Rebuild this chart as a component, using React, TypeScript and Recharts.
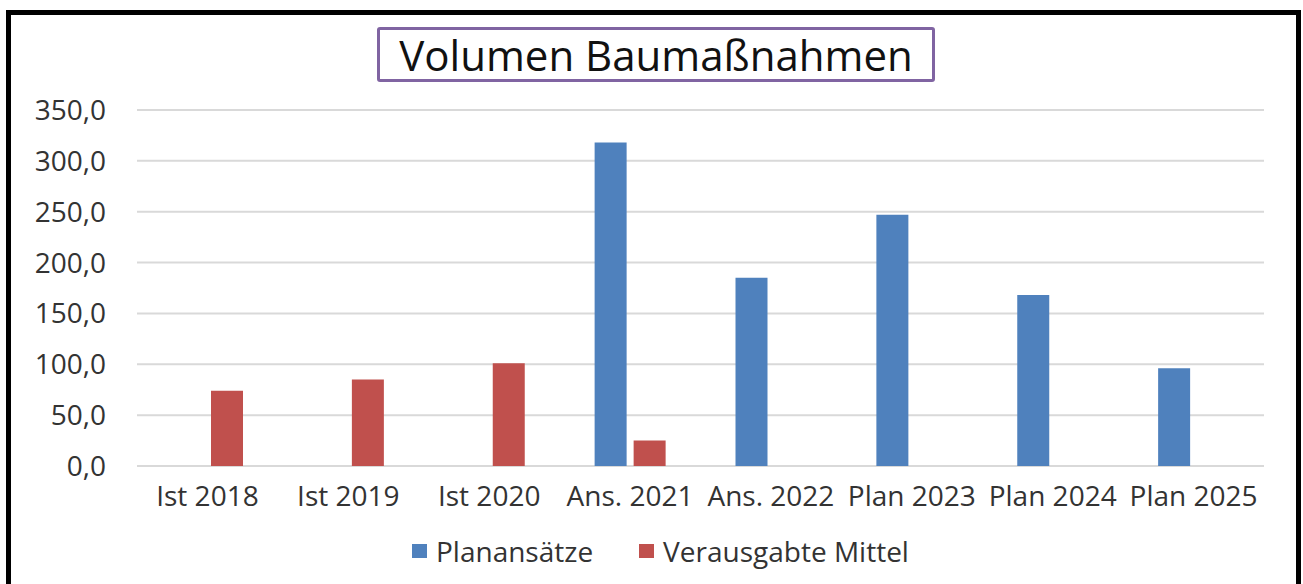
import { Bar, BarChart, CartesianGrid, Legend, XAxis, YAxis } from "recharts";

const categories = [
  "Ist 2018",
  "Ist 2019",
  "Ist 2020",
  "Ans. 2021",
  "Ans. 2022",
  "Plan 2023",
  "Plan 2024",
  "Plan 2025",
];
const planansaetze = [null, null, null, 318, 185, 247, 168, 96];
const verausgabt = [74, 85, 101, 25, null, null, null, null];
const yTicks = [0, 50, 100, 150, 200, 250, 300, 350];

const BLUE = "#4F81BD";
const RED = "#C0504D";
const FONT = "'Open Sans', sans-serif";
const TEXT = "#333";

const rows = categories.map((name, i) => ({
  name,
  plan: planansaetze[i],
  ist: verausgabt[i],
}));

// German decimal comma, one place
const fmt = (v: number) => v.toFixed(1).replace(".", ",");

function LegendBox() {
  const items = [
    { label: "Planansätze", color: BLUE },
    { label: "Verausgabte Mittel", color: RED },
  ];
  return (
    <div style={{ display: "flex", alignItems: "center", gap: 46, height: 30 }}>
      {items.map((it) => (
        <div key={it.label} style={{ display: "flex", alignItems: "center", gap: 9 }}>
          <span style={{ width: 15, height: 14, background: it.color, display: "inline-block" }} />
          <span style={{ fontFamily: FONT, fontSize: 28, color: TEXT, lineHeight: "30px" }}>
            {it.label}
          </span>
        </div>
      ))}
    </div>
  );
}

export default function App() {
  return (
    <div
      style={{
        position: "fixed",
        left: 0,
        top: 0,
        width: 1303,
        height: 584,
        background: "#fff",
        overflow: "hidden",
      }}
    >
      <div
        style={{
          position: "absolute",
          left: 6,
          top: 10,
          width: 1295,
          height: 600,
          border: "5px solid #000",
          boxSizing: "border-box",
        }}
      />
      <div
        style={{
          position: "absolute",
          left: 377,
          top: 27,
          width: 558,
          height: 55,
          border: "3px solid #8064A2",
          borderRadius: 3,
          boxSizing: "border-box",
          display: "flex",
          alignItems: "center",
          justifyContent: "center",
          fontFamily: FONT,
          fontSize: 42,
          color: "#111",
          background: "#fff",
        }}
      >
        Volumen Baumaßnahmen
      </div>
      <div style={{ position: "absolute", left: 0, top: 0 }}>
        <BarChart
          width={1303}
          height={584}
          data={rows}
          margin={{ top: 110, right: 39, bottom: 0, left: 0 }}
          barSize={32}
          barGap={7}
        >
          <CartesianGrid vertical={false} stroke="#d9d9d9" strokeWidth={2} />
          <XAxis
            dataKey="name"
            axisLine={false}
            tickLine={false}
            tickMargin={14}
            height={88}
            interval={0}
            tick={{ fontFamily: FONT, fontSize: 28, fill: TEXT }}
          />
          <YAxis
            domain={[0, 350]}
            ticks={yTicks}
            width={137}
            axisLine={false}
            tickLine={false}
            tickMargin={25}
            tickFormatter={fmt}
            tick={{ fontFamily: FONT, fontSize: 28, fill: TEXT }}
          />
          <Legend
            content={() => <LegendBox />}
            wrapperStyle={{ left: 412, top: 536, width: "auto", bottom: "auto" }}
          />
          <Bar dataKey="plan" name="Planansätze" fill={BLUE} isAnimationActive={false} />
          <Bar dataKey="ist" name="Verausgabte Mittel" fill={RED} isAnimationActive={false} />
        </BarChart>
      </div>
    </div>
  );
}
